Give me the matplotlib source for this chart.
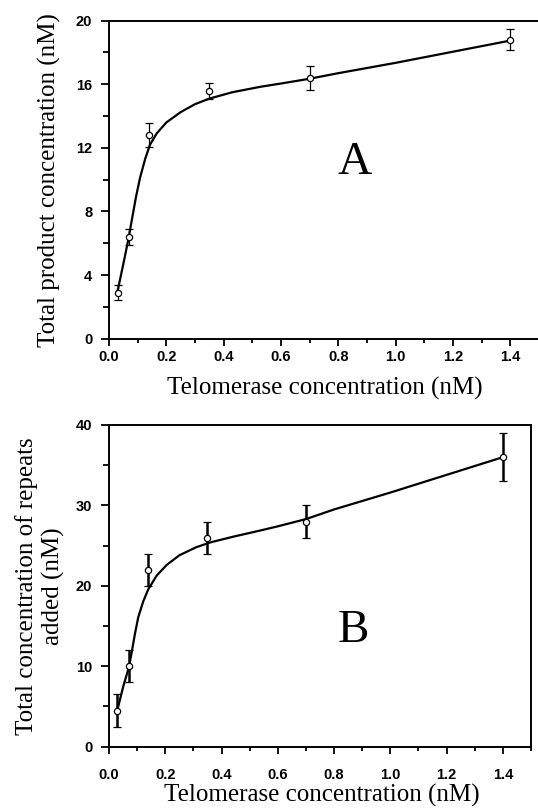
import matplotlib
matplotlib.use("Agg")
import matplotlib.pyplot as plt
from matplotlib.ticker import MultipleLocator, FormatStrFormatter

# ---- data ----
telomerase = [0.03, 0.07, 0.14, 0.35, 0.70, 1.40]

product_a = [2.9, 6.4, 12.8, 15.6, 16.4, 18.8]
product_a_err = [0.45, 0.5, 0.75, 0.5, 0.75, 0.65]

repeats_b = [4.5, 10.0, 22.0, 26.0, 28.0, 36.0]
repeats_b_err = [2.0, 2.0, 2.0, 2.0, 2.0, 3.0]

# fitted curves
fit_x_a = [0.03, 0.05, 0.067, 0.08, 0.094, 0.108, 0.126, 0.143, 0.166, 0.20,
           0.25, 0.30, 0.35, 0.43, 0.53, 0.60, 0.70, 0.80, 1.00, 1.20, 1.40]
fit_y_a = [3.0, 4.7, 6.2, 7.5, 8.9, 10.1, 11.3, 12.2, 12.9, 13.6,
           14.25, 14.75, 15.1, 15.5, 15.85, 16.05, 16.35, 16.7, 17.35, 18.05, 18.75]

fit_x_b = [0.03, 0.05, 0.07, 0.08, 0.092, 0.104, 0.122, 0.14, 0.17, 0.205,
           0.25, 0.31, 0.36, 0.44, 0.54, 0.60, 0.70, 0.80, 1.00, 1.20, 1.40]
fit_y_b = [4.6, 7.4, 9.8, 11.6, 14.0, 16.1, 18.1, 19.6, 21.3, 22.6,
           23.8, 24.8, 25.4, 26.1, 26.9, 27.4, 28.3, 29.5, 31.6, 33.8, 36.0]

xlabel = "Telomerase concentration (nM)"
ylabel_a = "Total product concentration (nM)"
ylabel_b = "Total concentration of repeats\nadded (nM)"
x_ticks = [0.0, 0.2, 0.4, 0.6, 0.8, 1.0, 1.2, 1.4]
y_ticks_a = [0, 4, 8, 12, 16, 20]
y_ticks_b = [0, 10, 20, 30, 40]

W, H = 538, 811
fig = plt.figure(figsize=(W / 100, H / 100), dpi=100)

serif = "Liberation Serif"
sans = "Liberation Sans"


def px_rect(l, t, r, b):
    return [l / W, (H - b) / H, (r - l) / W, (b - t) / H]


axA = fig.add_axes(px_rect(109, 20.7, 539, 338.7))
axB = fig.add_axes(px_rect(109, 425, 531, 746.7))


def style(ax, yticks, ymax, yminor, xpad):
    ax.set_xlim(0, 1.5)
    ax.set_ylim(0, ymax)
    ax.set_xticks(x_ticks)
    ax.set_yticks(yticks)
    ax.xaxis.set_minor_locator(MultipleLocator(0.1))
    ax.yaxis.set_minor_locator(MultipleLocator(yminor))
    ax.xaxis.set_major_formatter(FormatStrFormatter("%.1f"))
    ax.tick_params(axis="both", which="both", direction="out", width=1.3,
                   top=False, right=False)
    ax.tick_params(axis="x", which="major", length=5, pad=xpad)
    ax.tick_params(axis="x", which="minor", length=3)
    ax.tick_params(axis="y", which="major", length=6, pad=6)
    ax.tick_params(axis="y", which="minor", length=4)
    for lab in ax.get_xticklabels() + ax.get_yticklabels():
        lab.set_fontfamily(sans)
        lab.set_fontweight("bold")
        lab.set_fontsize(10.5)
    for s in ax.spines.values():
        s.set_linewidth(1.4)


# Panel A
axA.plot(fit_x_a, fit_y_a, color="black", lw=1.6, zorder=2)
axA.errorbar(telomerase, product_a, yerr=product_a_err, fmt="o", ms=4.5,
             mfc="white", mec="black", mew=0.9, ecolor="black", elinewidth=0.9,
             capsize=2.6, capthick=0.9, zorder=3)
style(axA, y_ticks_a, 20, 2, 3)
axA.spines["right"].set_visible(False)
axA.text(0.572, 0.553, "A", transform=axA.transAxes, fontsize=34,
         family=serif, ha="center", va="center")
fig.text(325 / W, 1 - 388 / H, xlabel, family=serif, fontsize=18,
         ha="center", va="center")
fig.text(49 / W, 1 - 180 / H, ylabel_a, family=serif, fontsize=18,
         ha="center", va="center", rotation=90)

# Panel B
axB.plot(fit_x_b, fit_y_b, color="black", lw=1.6, zorder=2)
axB.errorbar(telomerase, repeats_b, yerr=repeats_b_err, fmt="o", ms=4.5,
             mfc="white", mec="black", mew=0.9, ecolor="black", elinewidth=1.8,
             capsize=3.2, capthick=1.8, zorder=3)
style(axB, y_ticks_b, 40, 5, 10)
axB.text(0.578, 0.36, "B", transform=axB.transAxes, fontsize=34,
         family=serif, ha="center", va="center")
fig.text(322 / W, 1 - 795 / H, xlabel, family=serif, fontsize=18,
         ha="center", va="center")
fig.text(40 / W, 1 - 586 / H, ylabel_b, family=serif, fontsize=18,
         ha="center", va="center", rotation=90, linespacing=1.2,
         multialignment="center")

fig.savefig("out.png", dpi=100)
